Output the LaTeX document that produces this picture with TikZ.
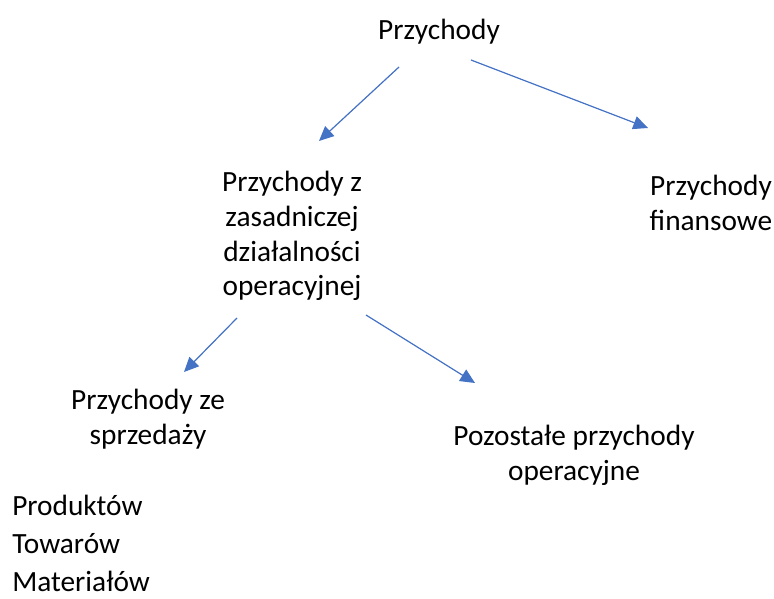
\documentclass[tikz,border=0pt]{standalone}
\usepackage{fontspec}
\setmainfont{Carlito}
\usetikzlibrary{calc}
\usetikzlibrary{arrows.meta}
\usetikzlibrary{positioning}
\definecolor{linkblue}{HTML}{4472C4}

\begin{document}
\begin{tikzpicture}[x=0.75pt,y=-0.75pt,>={Triangle[length=11pt,width=10pt]},
		box/.style={inner sep=0pt,align=center,font=\fontsize{22}{26}\selectfont},
		arr/.style={->,draw=linkblue,fill=linkblue,line width=0.9pt}]
		\useasboundingbox (0,0) rectangle (774,599);
		\node[box]  (top)   at (439,32)     {Przychody};
		\node[box]  (zas)   at (292,236)    {Przychody z\\zasadniczej\\działalności\\operacyjnej};
		\node[box]  (fin)   at (711,203)    {Przychody\\finansowe};
		\node[box]  (sales) at (148,419)    {Przychody ze\\sprzedaży};
		\node[box]  (poz)   at (574,455)    {Pozostałe przychody\\operacyjne};
		\node[box,align=left,anchor=north west,font=\fontsize{22}{28.5}\selectfont]
		            (list)  at (12,495)     {Produktów\\Towarów\\Materiałów};
		
		\path
		($(top)+(-40,35)$) edge[arr] ($(zas)+(27,-95)$)
		($(top)+(32,28)$) edge[arr] ($(fin)+(-63,-75)$)
		($(zas)+(-55,82)$) edge[arr] ($(sales)+(36,-47)$)
		($(zas)+(74,79)$) edge[arr] ($(poz)+(-99,-72)$);
		\end{tikzpicture}
\end{document}
